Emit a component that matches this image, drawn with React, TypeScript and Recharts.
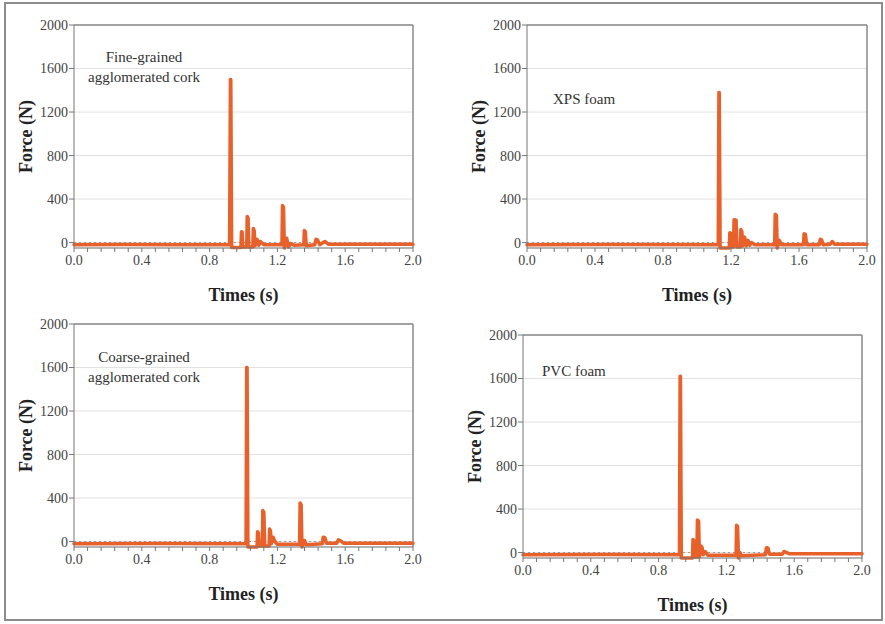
import { LineChart, Line, XAxis, YAxis, CartesianGrid, ReferenceLine } from 'recharts'

type Pt = { t: number; f: number }

const xTicks = [
  0, 0.08, 0.16, 0.24, 0.32, 0.4, 0.48, 0.56, 0.64, 0.72, 0.8, 0.88, 0.96,
  1.04, 1.12, 1.2, 1.28, 1.36, 1.44, 1.52, 1.6, 1.68, 1.76, 1.84, 1.92, 2.0,
]
const xTickLabels = ['0.0', '0.4', '0.8', '1.2', '1.6', '2.0']
const yTicks = [0, 400, 800, 1200, 1600, 2000]

// force traces: [time (s), force (N)]
const fineCork: [number, number][] = [
  [0, -20], [0.3, -18], [0.6, -20], [0.918, -20], [0.923, 1500], [0.925, 1500], [0.93, -45],
  [0.985, -45], [0.988, 100], [0.992, 95], [0.996, -40], [1.019, -40],
  [1.022, 240], [1.027, 225], [1.031, -40], [1.055, -40], [1.058, 130],
  [1.063, 110], [1.068, -30], [1.08, 30], [1.09, -25], [1.1, 10], [1.12, -20],
  [1.227, -20], [1.23, 340], [1.236, 325], [1.241, -50], [1.255, 40],
  [1.265, -40], [1.28, -10], [1.3, -25], [1.356, -20], [1.359, 110],
  [1.365, 100], [1.37, -30], [1.42, -20], [1.428, 30], [1.436, 25],
  [1.45, -20], [1.48, 10], [1.5, -15], [1.8, -15], [2.0, -15],
]

const xpsFoam: [number, number][] = [
  [0, -20], [0.5, -18], [1.125, -20], [1.129, 1380], [1.131, 1380], [1.136, -50],
  [1.19, -50], [1.193, 90], [1.198, 85], [1.202, -40], [1.215, -40],
  [1.218, 210], [1.23, 205], [1.235, -40], [1.255, -40], [1.258, 120],
  [1.264, 100], [1.269, -30], [1.28, 50], [1.29, -30], [1.3, 20],
  [1.31, -25], [1.32, 0], [1.34, -20], [1.457, -20], [1.46, 260],
  [1.467, 250], [1.472, -50], [1.485, 20], [1.495, -20], [1.626, -20],
  [1.63, 80], [1.638, 75], [1.645, -20], [1.72, -20], [1.725, 30],
  [1.733, 25], [1.742, -20], [1.785, -15], [1.795, 10], [1.81, -15],
  [2.0, -15],
]

const coarseCork: [number, number][] = [
  [0, -20], [0.5, -18], [1.015, -20], [1.019, 1600], [1.021, 1600], [1.026, -50],
  [1.08, -50], [1.083, 90], [1.088, 80], [1.092, -40], [1.111, -40],
  [1.114, 285], [1.12, 270], [1.125, -40], [1.151, -40], [1.154, 115],
  [1.159, 100], [1.164, -20], [1.175, 40], [1.185, 0], [1.2, -25],
  [1.331, -25], [1.334, 355], [1.34, 340], [1.345, -50], [1.36, 10],
  [1.37, -30], [1.465, -20], [1.47, 40], [1.48, 35], [1.49, -15],
  [1.55, -15], [1.56, 15], [1.575, 5], [1.59, -15], [2.0, -15],
]

const pvcFoam: [number, number][] = [
  [0, -20], [0.5, -18], [0.923, -20], [0.927, 1620], [0.929, 1620], [0.934, -50],
  [1.0, -50], [1.003, 120], [1.009, 110], [1.013, -40], [1.026, -40],
  [1.029, 300], [1.036, 290], [1.041, -40], [1.05, 60], [1.056, 50],
  [1.063, -20], [1.075, 10], [1.09, -25], [1.257, -25], [1.26, 250],
  [1.266, 240], [1.271, -50], [1.28, 0], [1.29, -30], [1.43, -20],
  [1.436, 45], [1.446, 40], [1.454, -15], [1.53, -15], [1.54, 10],
  [1.555, 0], [1.57, -10], [2.0, -10],
]

const serif = "'Liberation Serif', 'Times New Roman', serif"
const orange = '#e8602a'

const toRows = (pts: [number, number][]): Pt[] => pts.map(([t, f]) => ({ t, f }))

interface PanelProps {
  plotLeft: number
  plotTop: number
  plotW: number
  data: Pt[]
}

function Panel({ plotLeft, plotTop, plotW, data }: PanelProps) {
  const plotH = 223
  const w = plotW + 74 + 27
  const h = plotH + 25 + 70
  return (
    <div style={{ position: 'absolute', left: plotLeft - 74, top: plotTop - 25 }}>
      <LineChart
        width={w}
        height={h}
        data={data}
        margin={{ top: 25, right: 27, left: 14, bottom: 40 }}
      >
        <CartesianGrid vertical={false} stroke="#e2e2e2" />
        <XAxis
          dataKey="t"
          type="number"
          domain={[0, 2]}
          ticks={xTicks}
          interval={0}
          height={30}
          tickSize={4}
          tickMargin={3}
          stroke="#777"
          tick={{ fontSize: 14, fill: '#444', fontFamily: serif }}
          tickFormatter={(_v: number, i: number) => (i % 5 === 0 ? xTickLabels[i / 5] : '')}
          label={{
            content: () => (
              <text
                x={74 + plotW / 2}
                y={25 + plotH + 47}
                textAnchor="middle"
                dominantBaseline="central"
                fontFamily={serif}
                fontWeight="bold"
                fontSize={18}
                fill="#222"
              >
                Times (s)
              </text>
            ),
          }}
        />
        <YAxis
          type="number"
          domain={[-50, 2000]}
          ticks={yTicks}
          interval={0}
          width={60}
          tickSize={5}
          tickMargin={1}
          stroke="#777"
          tick={{ fontSize: 14, fill: '#444', fontFamily: serif }}
          label={{
            content: () => (
              <text
                x={26}
                y={25 + plotH / 2}
                transform={`rotate(-90, 26, ${25 + plotH / 2})`}
                textAnchor="middle"
                dominantBaseline="central"
                fontFamily={serif}
                fontWeight="bold"
                fontSize={18}
                fill="#222"
              >
                Force (N)
              </text>
            ),
          }}
        />
        <ReferenceLine y={0} stroke="#999" strokeDasharray="2 3" />
        <ReferenceLine y={2000} stroke="#888" strokeWidth={1.5} />
        <ReferenceLine x={2} stroke="#888" strokeWidth={1.5} />
        <Line
          type="linear"
          dataKey="f"
          stroke={orange}
          strokeWidth={3.5}
          strokeLinejoin="round"
          strokeLinecap="round"
          dot={false}
          isAnimationActive={false}
        />
      </LineChart>
    </div>
  )
}

const noteStyle = {
  position: 'absolute' as const,
  fontFamily: serif,
  fontSize: 15,
  lineHeight: '20px',
  color: '#333',
  whiteSpace: 'nowrap' as const,
}

export default function App() {
  return (
    <div style={{ position: 'absolute', left: 0, top: 0, width: 885, height: 624, background: '#fff' }}>
      <div
        style={{
          position: 'absolute',
          left: 4,
          top: 2,
          width: 879,
          height: 619,
          border: '2px solid #8c8c8c',
          boxSizing: 'border-box',
        }}
      />
      <Panel plotLeft={74} plotTop={25} plotW={339} data={toRows(fineCork)} />
      <Panel plotLeft={527} plotTop={25} plotW={340} data={toRows(xpsFoam)} />
      <Panel plotLeft={74} plotTop={324} plotW={339} data={toRows(coarseCork)} />
      <Panel plotLeft={523} plotTop={335} plotW={339} data={toRows(pvcFoam)} />
      <div style={{ ...noteStyle, left: 44, top: 47, width: 200, textAlign: 'center' }}>
        Fine-grained
        <br />
        agglomerated cork
      </div>
      <div style={{ ...noteStyle, left: 553, top: 89 }}>XPS foam</div>
      <div style={{ ...noteStyle, left: 44, top: 347, width: 200, textAlign: 'center' }}>
        Coarse-grained
        <br />
        agglomerated cork
      </div>
      <div style={{ ...noteStyle, left: 542, top: 361 }}>PVC foam</div>
    </div>
  )
}
